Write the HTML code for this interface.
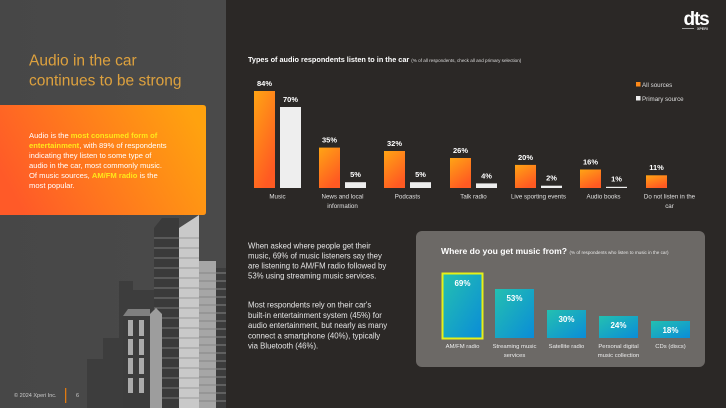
<!DOCTYPE html>
<html><head><meta charset="utf-8"><style>
html,body{margin:0;padding:0;background:#2b2826;}
svg{display:block;font-family:"Liberation Sans",sans-serif;}
</style></head><body>
<svg width="726" height="408" viewBox="0 0 726 408" xmlns="http://www.w3.org/2000/svg">
<defs>
<linearGradient id="og" x1="0" y1="0" x2="0.5" y2="1">
<stop offset="0" stop-color="#ffa414"/><stop offset="1" stop-color="#ff5a22"/></linearGradient>
<linearGradient id="box" x1="0" y1="0.6" x2="1" y2="0.3">
<stop offset="0" stop-color="#ff5a28"/><stop offset="1" stop-color="#ffa20f"/></linearGradient>
<linearGradient id="tg" x1="0" y1="0" x2="1" y2="1">
<stop offset="0" stop-color="#24c0b0"/><stop offset="1" stop-color="#0a8cd8"/></linearGradient>
<linearGradient id="lp" x1="0" y1="0" x2="1" y2="0">
<stop offset="0" stop-color="#474747"/><stop offset="1" stop-color="#4a4a4a"/></linearGradient>
</defs>
<rect width="726" height="408" fill="#2b2826"/>
<rect width="226" height="408" fill="url(#lp)"/>

<!-- buildings -->
<g>
<rect x="87" y="359" width="16" height="49" fill="#3d3d3d"/>
<rect x="103" y="338" width="17" height="70" fill="#3d3d3d"/>
<rect x="119" y="281" width="14" height="127" fill="#3d3d3d"/>
<rect x="133" y="290" width="21" height="118" fill="#3d3d3d"/>
<polygon points="154,228 162,218 179,218 179,408 154,408" fill="#3a3a3a"/>
<g stroke="#787878" stroke-width="1">
<line x1="154" y1="238" x2="179" y2="238"/><line x1="154" y1="248" x2="179" y2="248"/><line x1="154" y1="258" x2="179" y2="258"/><line x1="154" y1="268" x2="179" y2="268"/><line x1="154" y1="278" x2="179" y2="278"/><line x1="154" y1="288" x2="179" y2="288"/><line x1="154" y1="298" x2="179" y2="298"/><line x1="154" y1="308" x2="179" y2="308"/><line x1="154" y1="318" x2="179" y2="318"/><line x1="154" y1="328" x2="179" y2="328"/><line x1="154" y1="338" x2="179" y2="338"/><line x1="154" y1="348" x2="179" y2="348"/><line x1="154" y1="358" x2="179" y2="358"/><line x1="154" y1="368" x2="179" y2="368"/><line x1="154" y1="378" x2="179" y2="378"/><line x1="154" y1="388" x2="179" y2="388"/><line x1="154" y1="398" x2="179" y2="398"/>
</g>
<polygon points="179,228 199,215 199,408 179,408" fill="#c9c9c9"/>
<g stroke="#9c9c9c" stroke-width="1">
<line x1="179" y1="238" x2="199" y2="238"/><line x1="179" y1="248" x2="199" y2="248"/><line x1="179" y1="258" x2="199" y2="258"/><line x1="179" y1="268" x2="199" y2="268"/><line x1="179" y1="278" x2="199" y2="278"/><line x1="179" y1="288" x2="199" y2="288"/><line x1="179" y1="298" x2="199" y2="298"/><line x1="179" y1="308" x2="199" y2="308"/><line x1="179" y1="318" x2="199" y2="318"/><line x1="179" y1="328" x2="199" y2="328"/><line x1="179" y1="338" x2="199" y2="338"/><line x1="179" y1="348" x2="199" y2="348"/><line x1="179" y1="358" x2="199" y2="358"/><line x1="179" y1="368" x2="199" y2="368"/><line x1="179" y1="378" x2="199" y2="378"/><line x1="179" y1="388" x2="199" y2="388"/><line x1="179" y1="398" x2="199" y2="398"/>
</g>
<rect x="199" y="261" width="17" height="147" fill="#a6a6a6"/>
<rect x="216" y="268" width="10" height="140" fill="#3c3c3c"/>
<g stroke="#858585" stroke-width="1">
<line x1="199" y1="273" x2="226" y2="273"/><line x1="199" y1="281" x2="226" y2="281"/><line x1="199" y1="289" x2="226" y2="289"/><line x1="199" y1="297" x2="226" y2="297"/><line x1="199" y1="305" x2="226" y2="305"/><line x1="199" y1="313" x2="226" y2="313"/><line x1="199" y1="321" x2="226" y2="321"/><line x1="199" y1="329" x2="226" y2="329"/><line x1="199" y1="337" x2="226" y2="337"/><line x1="199" y1="345" x2="226" y2="345"/><line x1="199" y1="353" x2="226" y2="353"/><line x1="199" y1="361" x2="226" y2="361"/><line x1="199" y1="369" x2="226" y2="369"/><line x1="199" y1="377" x2="226" y2="377"/><line x1="199" y1="385" x2="226" y2="385"/><line x1="199" y1="393" x2="226" y2="393"/><line x1="199" y1="401" x2="226" y2="401"/>
</g>
<rect x="123" y="315" width="27" height="93" fill="#3c3c3c"/>
<polygon points="123,316 128,309 150,309 150,316" fill="#7f7f7f"/>
<polygon points="150,314 156,308 162,314 162,408 150,408" fill="#9d9d9d"/>
<g fill="#ababab">
<rect x="128" y="320" width="5" height="16"/><rect x="139" y="320" width="5" height="16"/>
<rect x="128" y="339" width="5" height="16"/><rect x="139" y="339" width="5" height="16"/>
<rect x="128" y="358" width="5" height="16"/><rect x="139" y="358" width="5" height="16"/>
<rect x="128" y="378" width="5" height="15"/><rect x="139" y="378" width="5" height="15"/>
</g>
</g>

<!-- title -->
<text x="29" y="65.5" font-size="15.5" fill="#dda13e">Audio in the car</text>
<text x="29" y="85.5" font-size="15.5" fill="#dda13e">continues to be strong</text>

<!-- orange box -->
<path d="M0,105 H203 Q206,105 206,108 V212 Q206,215 203,215 H0 Z" fill="url(#box)"/>
<g font-size="7.6" fill="#ffffff">
<text x="29" y="138"><tspan>Audio is the </tspan><tspan fill="#ffe81a" font-weight="bold">most consumed form of</tspan></text>
<text x="29" y="148"><tspan fill="#ffe81a" font-weight="bold">entertainment</tspan><tspan>, with 89% of respondents</tspan></text>
<text x="29" y="158">indicating they listen to some type of</text>
<text x="29" y="168">audio in the car, most commonly music.</text>
<text x="29" y="178"><tspan>Of music sources, </tspan><tspan fill="#ffe81a" font-weight="bold">AM/FM radio</tspan><tspan> is the</tspan></text>
<text x="29" y="188">most popular.</text>
</g>

<!-- footer -->
<text x="14" y="397" font-size="5.5" fill="#cccccc">© 2024 Xperi Inc.</text>
<rect x="65" y="388" width="1.3" height="15" fill="#e07a10"/>
<text x="76" y="397" font-size="5.5" fill="#cccccc">6</text>

<!-- dts logo -->
<text x="696" y="25" font-size="19" font-weight="bold" fill="#ffffff" text-anchor="middle" letter-spacing="-1.2">dts</text>
<rect x="682" y="28" width="12" height="0.8" fill="#bbbbbb"/>
<text x="697" y="30" font-size="3.6" font-weight="bold" fill="#dddddd">XPERI</text>

<!-- top chart -->
<text x="248" y="62" font-size="7.3" font-weight="bold" fill="#ffffff">Types of audio respondents listen to in the car <tspan font-size="4.6" font-weight="normal" fill="#dddddd">(% of all respondents, check all and primary selection)</tspan></text>

<g fill="url(#og)">
<rect x="254" y="91" width="21" height="97"/>
<rect x="319" y="147.6" width="21" height="40.4"/>
<rect x="384" y="151" width="21" height="37"/>
<rect x="450" y="158" width="21" height="30"/>
<rect x="515" y="164.9" width="21" height="23.1"/>
<rect x="580" y="169.5" width="21" height="18.5"/>
<rect x="646" y="175.3" width="21" height="12.7"/>
</g>
<g fill="#eeeeee">
<rect x="280" y="107" width="21" height="81"/>
<rect x="345" y="182.2" width="21" height="5.8"/>
<rect x="410" y="182.2" width="21" height="5.8"/>
<rect x="476" y="183.4" width="21" height="4.6"/>
<rect x="541" y="185.7" width="21" height="2.3"/>
<rect x="606" y="186.8" width="21" height="1.2"/>
</g>
<g font-size="7.5" font-weight="bold" fill="#ffffff" text-anchor="middle">
<text x="264.5" y="86">84%</text><text x="290.5" y="102">70%</text>
<text x="329.5" y="142.5">35%</text><text x="355.5" y="177">5%</text>
<text x="394.5" y="146">32%</text><text x="420.5" y="177">5%</text>
<text x="460.5" y="153">26%</text><text x="486.5" y="178.5">4%</text>
<text x="525.5" y="160">20%</text><text x="551.5" y="180.5">2%</text>
<text x="590.5" y="164.5">16%</text><text x="616.5" y="181.5">1%</text>
<text x="656.5" y="170">11%</text>
</g>
<g font-size="6.2" fill="#e0e0e0" text-anchor="middle">
<text x="277.5" y="198.5">Music</text>
<text x="342.5" y="198.5">News and local</text><text x="342.5" y="208">information</text>
<text x="407.5" y="198.5">Podcasts</text>
<text x="473.5" y="198.5">Talk radio</text>
<text x="538.5" y="198.5">Live sporting events</text>
<text x="603.5" y="198.5">Audio books</text>
<text x="669.5" y="198.5">Do not listen in the</text><text x="669.5" y="208">car</text>
</g>
<rect x="636" y="82" width="4.5" height="4.5" fill="#ff8a18"/>
<text x="642" y="87" font-size="6.2" fill="#dddddd">All sources</text>
<rect x="636" y="96" width="4.5" height="4.5" fill="#eeeeee"/>
<text x="642" y="101" font-size="6.2" fill="#dddddd">Primary source</text>

<!-- middle text -->
<g font-size="7.8" fill="#e6e6e6">
<text x="248" y="248.5">When asked where people get their</text>
<text x="248" y="258.5">music, 69% of music listeners say they</text>
<text x="248" y="268.5">are listening to AM/FM radio followed by</text>
<text x="248" y="278.5">53% using streaming music services.</text>
<text x="248" y="307.5">Most respondents rely on their car's</text>
<text x="248" y="317.8">built-in entertainment system (45%) for</text>
<text x="248" y="328.1">audio entertainment, but nearly as many</text>
<text x="248" y="338.4">connect a smartphone (40%), typically</text>
<text x="248" y="348.7">via Bluetooth (46%).</text>
</g>

<!-- bottom card -->
<rect x="416" y="231" width="289" height="136" rx="6" fill="#6c6966"/>
<text x="441" y="254" font-size="8.6" font-weight="bold" fill="#ffffff">Where do you get music from? <tspan font-size="4.6" font-weight="normal" fill="#e6e6e6">(% of respondents who listen to music in the car)</tspan></text>
<g fill="url(#tg)">
<rect x="443" y="274" width="39" height="64"/>
<rect x="495" y="289" width="39" height="49"/>
<rect x="547" y="310" width="39" height="28"/>
<rect x="599" y="316" width="39" height="22"/>
<rect x="651" y="321" width="39" height="17"/>
</g>
<rect x="442.5" y="273.5" width="40" height="65" fill="none" stroke="#e6f018" stroke-width="2"/>
<g font-size="8" font-weight="bold" fill="#ffffff" text-anchor="middle">
<text x="462.5" y="286">69%</text>
<text x="514.5" y="301">53%</text>
<text x="566.5" y="322">30%</text>
<text x="618.5" y="328">24%</text>
<text x="670.5" y="333">18%</text>
</g>
<g font-size="5.9" fill="#eeeeee" text-anchor="middle">
<text x="462.5" y="348">AM/FM radio</text>
<text x="514.5" y="348">Streaming music</text><text x="514.5" y="357">services</text>
<text x="566.5" y="348">Satellite radio</text>
<text x="618.5" y="348">Personal digital</text><text x="618.5" y="357">music collection</text>
<text x="670.5" y="348">CDs (discs)</text>
</g>
</svg>
</body></html>
